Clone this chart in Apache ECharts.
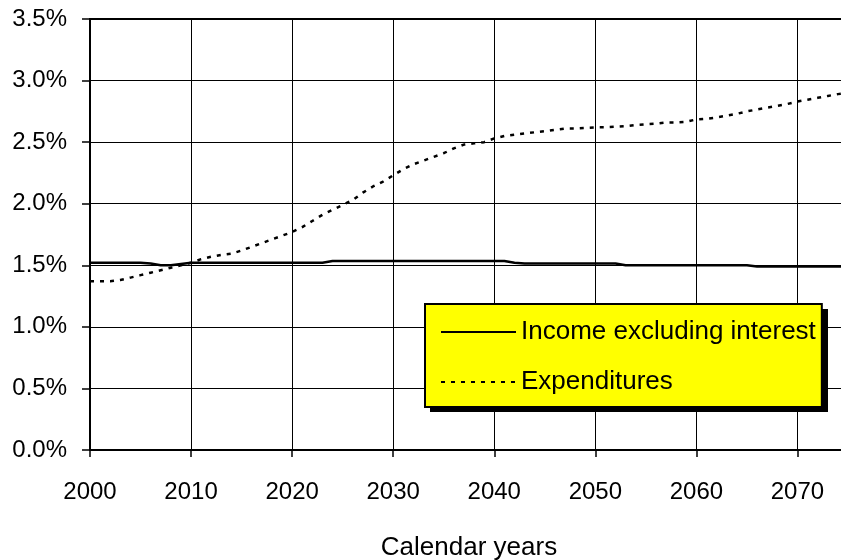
<!DOCTYPE html>
<html>
<head>
<meta charset="utf-8">
<script src="https://cdn.jsdelivr.net/npm/echarts@6/dist/echarts.min.js"></script>
<style>html,body{margin:0;padding:0;background:#fff;}#c{width:841px;height:560px;}</style>
</head>
<body>
<div id="c"></div>
<script>
const years = [2000,2001,2002,2003,2004,2005,2006,2007,2008,2009,
  2010,2011,2012,2013,2014,2015,2016,2017,2018,2019,
  2020,2021,2022,2023,2024,2025,2026,2027,2028,2029,
  2030,2031,2032,2033,2034,2035,2036,2037,2038,2039,
  2040,2041,2042,2043,2044,2045,2046,2047,2048,2049,
  2050,2051,2052,2053,2054,2055,2056,2057,2058,2059,
  2060,2061,2062,2063,2064,2065,2066,2067,2068,2069,
  2070,2071,2072,2073,2074,2075];
const incomeExclInterest = [1.52,1.52,1.52,1.52,1.52,1.52,1.515,1.50,1.50,1.51,
  1.52,1.52,1.52,1.52,1.52,1.52,1.52,1.52,1.52,1.52,
  1.52,1.52,1.52,1.52,1.535,1.535,1.535,1.535,1.535,1.535,
  1.535,1.535,1.535,1.535,1.535,1.535,1.535,1.535,1.535,1.535,
  1.535,1.535,1.52,1.515,1.515,1.515,1.515,1.515,1.515,1.515,
  1.515,1.515,1.515,1.50,1.50,1.50,1.50,1.50,1.50,1.50,
  1.50,1.50,1.50,1.50,1.50,1.50,1.49,1.49,1.49,1.49,
  1.49,1.49,1.49,1.49,1.49,1.49];
const expenditures = [1.37,1.37,1.37,1.38,1.40,1.42,1.44,1.46,1.48,1.50,
  1.52,1.55,1.57,1.585,1.595,1.62,1.65,1.68,1.71,1.74,
  1.77,1.81,1.86,1.91,1.95,1.99,2.03,2.09,2.14,2.18,
  2.23,2.28,2.32,2.35,2.38,2.41,2.45,2.48,2.49,2.50,
  2.53,2.55,2.56,2.57,2.58,2.59,2.60,2.61,2.61,2.615,
  2.62,2.62,2.625,2.63,2.64,2.645,2.65,2.66,2.66,2.665,
  2.685,2.69,2.70,2.715,2.73,2.75,2.765,2.78,2.795,2.81,
  2.83,2.845,2.86,2.875,2.89,2.90];
const seriesNames = ['Income excluding interest', 'Expenditures'];
const xAxisTitle = 'Calendar years';

const FONT = 'Liberation Sans, Arial, sans-serif';
const chart = echarts.init(document.getElementById('c'), null, {renderer: 'canvas'});
chart.setOption({
  animation: false,
  backgroundColor: '#ffffff',
  grid: {left: 90, right: -7, top: 19, bottom: 110, show: true, borderColor: '#000', borderWidth: 2,
         backgroundColor: 'transparent', containLabel: false, outerBoundsMode: 'none'},
  graphic: [
    {type: 'rect', z: 5, silent: true, shape: {x: 430, y: 309, width: 398, height: 103},
     style: {fill: '#000'}}
  ],
  xAxis: {
    type: 'value', min: 2000, max: 2075, interval: 10,
    name: xAxisTitle, nameLocation: 'middle', nameGap: 85,
    nameTextStyle: {fontFamily: FONT, fontSize: 26, color: '#000'},
    axisLine: {show: true, onZero: false, lineStyle: {color: '#000', width: 2}},
    axisTick: {show: true, inside: false, length: 7, lineStyle: {color: '#000', width: 1.5}},
    axisLabel: {fontFamily: FONT, fontSize: 24, color: '#000', margin: 30, showMaxLabel: false, formatter: v => String(v)},
    splitLine: {show: true, lineStyle: {color: '#000', width: 1}}
  },
  yAxis: {
    type: 'value', min: 0, max: 3.5, interval: 0.5,
    axisLine: {show: true, lineStyle: {color: '#000', width: 2}},
    axisTick: {show: true, inside: false, length: 8, lineStyle: {color: '#000', width: 1.5}},
    axisLabel: {fontFamily: FONT, fontSize: 24, color: '#000', margin: 23, formatter: v => v.toFixed(1) + '%'},
    splitLine: {show: true, lineStyle: {color: '#000', width: 1}}
  },
  legend: {
    z: 10,
    orient: 'vertical', left: 425, top: 304,
    width: 398,
    padding: [13, 6, 10, 15],
    itemWidth: 75, itemHeight: 14, itemGap: 20,
    backgroundColor: '#ffff00', borderColor: '#000', borderWidth: 2,
    itemStyle: {opacity: 0},
    textStyle: {fontFamily: FONT, fontSize: 26, color: '#000', lineHeight: 30},
    data: seriesNames
  },
  series: [
    {name: seriesNames[0], type: 'line', symbol: 'none', showSymbol: false,
     data: years.map((y, i) => [y, incomeExclInterest[i]]),
     lineStyle: {color: '#000', width: 2.5, type: 'solid'}, itemStyle: {color: '#000'}},
    {name: seriesNames[1], type: 'line', symbol: 'none', showSymbol: false,
     data: years.map((y, i) => [y, expenditures[i]]),
     lineStyle: {color: '#000', width: 2.5, type: [4, 6]}, itemStyle: {color: '#000'}}
  ]
});
</script>
</body>
</html>
